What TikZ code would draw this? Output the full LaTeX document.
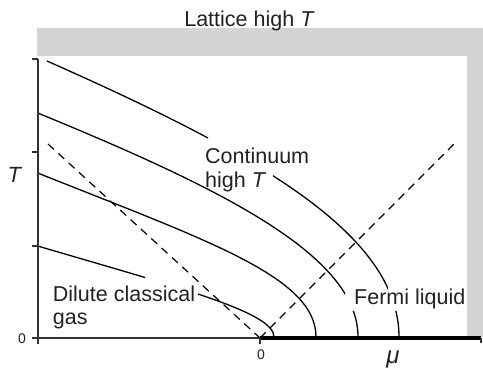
\documentclass[tikz,border=0pt]{standalone}
\usepackage{fontspec}
\setmainfont{Liberation Sans}
\definecolor{bandgray}{HTML}{D4D4D4}
\definecolor{axisgray}{HTML}{333333}
\definecolor{textgray}{HTML}{222222}
\begin{document}
\begin{tikzpicture}[x=1pt,y=-1pt,
  curve/.style={line width=1.3pt, draw=black},
  guide/.style={line width=1.2pt, draw=black, dash pattern=on 8pt off 6pt},
  axisline/.style={line width=2pt, draw=axisgray},
  tick/.style={line width=1.6pt, draw=axisgray},
  band/.style={fill=bandgray, draw=none},
  lbl/.style={font=\fontsize{21.5}{23.5}\selectfont, text=textgray, inner sep=0pt, align=left},
  small/.style={font=\fontsize{14}{16}\selectfont, text=textgray, inner sep=0pt}]
\useasboundingbox (0,0) rectangle (483,374);
% grey bands (lattice high T)
\fill[band] (37,28) rectangle (483,56);
\fill[band] (467,56) rectangle (483,337);
% coordinates
\coordinate (O) at (37.7,338);
\coordinate (Z) at (260,338);
\coordinate (E) at (481,338);
\coordinate (Top) at (37.7,59);
\coordinate (DL) at (48,144);
\coordinate (DR) at (455,143);
% curve 1
\begin{scope}
\clip (0,0) rectangle (145,374) (198,0) rectangle (483,374);
\draw[curve] (37.7,246) .. controls (180,288) and (274,312) .. (274,337);
\end{scope}
% curve 2
\draw[curve] (37.7,173) .. controls (208,241) and (316,277) .. (316,337);
% curve 3
\begin{scope}
\clip (0,0) rectangle (345,374) (0,311) rectangle (483,374);
\draw[curve] (37.7,113) .. controls (228,191) and (358,257) .. (358,337);
\end{scope}
% curve 4
\begin{scope}
\clip (0,0) rectangle (208,374) (273,0) rectangle (388,374) (0,311) rectangle (483,374);
\draw[curve] (47,61) .. controls (250,151) and (399,232) .. (399,337);
\end{scope}
% dashed guides
\draw[guide] (DL) -- (Z);
\draw[guide] (Z) -- (DR);
% axes
\draw[axisline] (Top) -- (O) -- (E);
\draw[line width=4pt, draw=black] (Z) -- (E);
\foreach \yy in {59,152,246,338} \draw[tick] (32,\yy) -- (37.7,\yy);
\draw[tick] (O) -- ++(0,6);
\draw[tick] (Z) -- ++(0,6);
\draw[tick] (E) -- ++(0,5);
% labels
\node[lbl, anchor=base] (lattice) at (249.5,26.7) {Lattice high \textit{T}};
\node[lbl, anchor=north west] (cont) at (205,147.9) {Continuum\\high \textit{T}};
\node[lbl, anchor=north west] (dilute) at (52.7,285.6) {Dilute classical\\gas};
\node[lbl, anchor=base west] (fermi) at (354,305) {Fermi liquid};
\node[font=\fontsize{22}{24}\selectfont, text=textgray, inner sep=0pt] (tlab) at (15,175) {\textit{T}};
\node[font=\fontsize{24}{26}\selectfont, text=textgray, inner sep=0pt] (mulab) at (393,359) {\textit{μ}};
\node[small] (zeroT) at (22,339) {0};
\node[small] (zeromu) at (261,355) {0};
\end{tikzpicture}
\end{document}
